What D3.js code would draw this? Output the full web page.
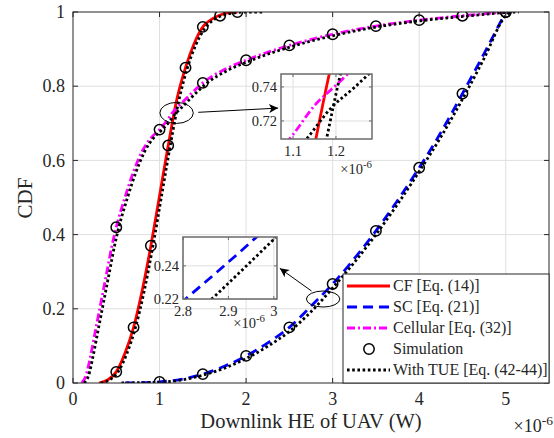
<!DOCTYPE html>
<html>
<head>
<meta charset="utf-8">
<script src="https://cdn.jsdelivr.net/npm/d3@7"></script>
<style>
  body { margin: 0; background: #fff; }
  svg { display: block; }
</style>
</head>
<body>
<svg id="chart" width="554" height="438"></svg>
<script>
// Downlink harvested energy (x in units of 1e-6 W) and CDF values
const cfX   = [0.30, 0.40, 0.50, 0.60, 0.70, 0.80, 0.90, 1.00, 1.10, 1.20, 1.30, 1.40, 1.50, 1.60, 1.70, 1.80, 1.90];
const cfY   = [0.000, 0.008, 0.030, 0.080, 0.150, 0.250, 0.370, 0.505, 0.640, 0.765, 0.850, 0.915, 0.960, 0.980, 0.992, 0.998, 1.000];

const scX   = [0.60, 0.80, 1.00, 1.25, 1.50, 1.75, 2.00, 2.25, 2.50, 2.75, 3.00, 3.25, 3.50, 3.75, 4.00, 4.25, 4.50, 4.75, 5.00];
const scY   = [0.000, 0.001, 0.003, 0.010, 0.024, 0.045, 0.073, 0.108, 0.150, 0.207, 0.267, 0.335, 0.410, 0.492, 0.580, 0.675, 0.780, 0.888, 1.000];

const cellX = [0.10, 0.15, 0.20, 0.25, 0.30, 0.35, 0.40, 0.45, 0.50, 0.60, 0.70, 0.80, 0.90, 1.00, 1.10, 1.15, 1.20, 1.30, 1.40, 1.50, 1.75, 2.00, 2.50, 3.00, 3.50, 4.00, 4.50, 5.00];
const cellY = [0.000, 0.020, 0.070, 0.130, 0.190, 0.250, 0.310, 0.370, 0.420, 0.500, 0.570, 0.625, 0.660, 0.683, 0.712, 0.729, 0.741, 0.765, 0.788, 0.809, 0.845, 0.870, 0.910, 0.940, 0.962, 0.978, 0.990, 1.000];

// Closed-form results with transceiver hardware impairments (TUE)
const tueCfX   = [0.32, 0.42, 0.52, 0.62, 0.72, 0.82, 0.92, 1.02, 1.12, 1.22, 1.32, 1.42, 1.52, 1.62, 1.72, 1.85, 2.00, 2.20];
const tueCfY   = [0.000, 0.008, 0.030, 0.078, 0.148, 0.245, 0.365, 0.500, 0.635, 0.758, 0.848, 0.912, 0.955, 0.978, 0.990, 0.997, 1.000, 1.000];

const tueScX   = [0.56, 0.80, 1.00, 1.25, 1.50, 1.75, 2.00, 2.25, 2.50, 2.75, 3.00, 3.25, 3.50, 3.75, 4.00, 4.25, 4.50, 4.75, 5.00, 5.05];
const tueScY   = [0.000, 0.001, 0.002, 0.008, 0.021, 0.040, 0.066, 0.099, 0.139, 0.192, 0.256, 0.325, 0.400, 0.482, 0.570, 0.663, 0.765, 0.875, 0.990, 1.000];

const tueCellX = [0.13, 0.18, 0.23, 0.28, 0.33, 0.38, 0.43, 0.48, 0.53, 0.63, 0.73, 0.83, 0.93, 1.03, 1.13, 1.19, 1.24, 1.34, 1.44, 1.54, 1.79, 2.04, 2.54, 3.04, 3.54, 4.04, 4.54, 5.04, 5.15];
const tueCellY = [0.000, 0.020, 0.070, 0.130, 0.190, 0.250, 0.310, 0.370, 0.420, 0.500, 0.570, 0.625, 0.660, 0.683, 0.709, 0.728, 0.739, 0.763, 0.786, 0.807, 0.843, 0.868, 0.908, 0.938, 0.961, 0.977, 0.989, 0.999, 1.000];

// Monte-Carlo simulation points
const simCfX   = [0.5, 0.7, 0.9, 1.1, 1.3, 1.5, 1.7, 1.9];
const simCfY   = [0.03, 0.15, 0.37, 0.64, 0.85, 0.96, 0.99, 1.0];
const simCellX = [0.5, 1.0, 1.5, 2.0, 2.5, 3.0, 3.5, 4.0, 4.5, 5.0];
const simCellY = [0.42, 0.683, 0.809, 0.87, 0.91, 0.94, 0.962, 0.978, 0.99, 1.0];
const simScX   = [1.0, 1.5, 2.0, 2.5, 3.0, 3.5, 4.0, 4.5, 5.0];
const simScY   = [0.003, 0.024, 0.073, 0.15, 0.267, 0.41, 0.58, 0.78, 1.0];

// Axis ticks
const xTicks = [0, 1, 2, 3, 4, 5];
const yTicks = [0, 0.2, 0.4, 0.6, 0.8, 1];
const inset1XTicks = [1.1, 1.2];
const inset1YTicks = [0.72, 0.74];
const inset2XTicks = [2.8, 2.9, 3];
const inset2YTicks = [0.22, 0.24];

const legendLabels = ["CF [Eq. (14)]", "SC [Eq. (21)]", "Cellular [Eq. (32)]", "Simulation", "With TUE [Eq. (42-44)]"];

// ---------------------------------------------------------------
const svg = d3.select("#chart");
const AX = "#262626", GRID = "#dfdfdf";
const FONT = '"Liberation Serif", "Times New Roman", serif';
const txt = sel => sel.style("font-family", FONT).style("fill", AX);

const x = d3.scaleLinear().domain([0, 5.5]).range([73, 549]);
const y = d3.scaleLinear().domain([0, 1]).range([383, 12]);

const zip = (xs, ys) => xs.map((v, i) => [v, ys[i]]);

const styles = [
  { data: zip(cfX, cfY),     color: "#ff0000", dash: null },
  { data: zip(scX, scY),     color: "#0000ff", dash: "10,6" },
  { data: zip(cellX, cellY), color: "#ff00ff", dash: "8,3,2,3" }
];
const tueData = [zip(tueCfX, tueCfY), zip(tueScX, tueScY), zip(tueCellX, tueCellY)];
const simData = [].concat(zip(simCfX, simCfY), zip(simCellX, simCellY), zip(simScX, simScY));

function drawGrid(g, sx, sy, xt, yt) {
  const [x0, x1] = sx.range(), [y0, y1] = sy.range();
  g.selectAll(null).data(xt).join("line")
    .attr("x1", d => sx(d)).attr("x2", d => sx(d)).attr("y1", y0).attr("y2", y1)
    .attr("stroke", GRID).attr("stroke-width", 1);
  g.selectAll(null).data(yt).join("line")
    .attr("x1", x0).attr("x2", x1).attr("y1", d => sy(d)).attr("y2", d => sy(d))
    .attr("stroke", GRID).attr("stroke-width", 1);
}

function drawCurves(g, sx, sy, withMarkers) {
  const line = d3.line().x(d => sx(d[0])).y(d => sy(d[1])).curve(d3.curveMonotoneX);
  styles.forEach(s => {
    g.append("path").attr("d", line(s.data)).attr("fill", "none")
      .attr("stroke", s.color).attr("stroke-width", 2.8)
      .attr("stroke-dasharray", s.dash);
  });
  if (withMarkers) {
    g.selectAll(null).data(simData).join("circle")
      .attr("cx", d => sx(d[0])).attr("cy", d => sy(d[1])).attr("r", 5.2)
      .attr("fill", "none").attr("stroke", "#000").attr("stroke-width", 1.5);
  }
  tueData.forEach(d => {
    g.append("path").attr("d", line(d)).attr("fill", "none")
      .attr("stroke", "#000").attr("stroke-width", 2.8)
      .attr("stroke-dasharray", "2.6,2.6");
  });
}

function drawFrame(g, sx, sy, xt, yt, opts) {
  const [x0, x1] = sx.range(), [y0, y1] = sy.range();
  const tl = opts.tick;
  // ticks on all four sides, pointing inward
  xt.forEach(t => {
    g.append("line").attr("x1", sx(t)).attr("x2", sx(t)).attr("y1", y0).attr("y2", y0 - tl).attr("stroke", opts.color);
    g.append("line").attr("x1", sx(t)).attr("x2", sx(t)).attr("y1", y1).attr("y2", y1 + tl).attr("stroke", opts.color);
  });
  yt.forEach(t => {
    g.append("line").attr("x1", x0).attr("x2", x0 + tl).attr("y1", sy(t)).attr("y2", sy(t)).attr("stroke", opts.color);
    g.append("line").attr("x1", x1).attr("x2", x1 - tl).attr("y1", sy(t)).attr("y2", sy(t)).attr("stroke", opts.color);
  });
  g.append("rect").attr("x", x0).attr("y", y1).attr("width", x1 - x0).attr("height", y0 - y1)
    .attr("fill", "none").attr("stroke", opts.color).attr("stroke-width", opts.width);
  // tick labels
  g.selectAll(null).data(xt).join("text")
    .attr("x", d => sx(d)).attr("y", y0 + opts.xLabelDy)
    .attr("text-anchor", "middle").attr("font-size", opts.font)
    .call(txt).text(d => opts.fmtX(d));
  g.selectAll(null).data(yt).join("text")
    .attr("x", x0 - opts.yLabelDx).attr("y", d => sy(d)).attr("dy", "0.34em")
    .attr("text-anchor", "end").attr("font-size", opts.font)
    .call(txt).text(d => opts.fmtY(d));
  // exponent label at the right end of the x axis
  const ex = g.append("text").attr("x", x1 + opts.expDx).attr("y", y0 + opts.expDy)
    .attr("text-anchor", "end").attr("font-size", opts.font).call(txt);
  ex.append("tspan").text("\u00d710");
  ex.append("tspan").attr("dy", -opts.font * 0.4).attr("font-size", opts.font * 0.75).text("-6");
}

// ---- main axes ----
const main = svg.append("g");
drawGrid(main, x, y, xTicks.slice(1), yTicks.slice(1, -1));
svg.append("clipPath").attr("id", "clipMain").append("rect")
  .attr("x", 73).attr("y", 12).attr("width", 476).attr("height", 371);
const mainPlot = main.append("g").attr("clip-path", "url(#clipMain)");
drawCurves(mainPlot, x, y, true);
drawFrame(main, x, y, xTicks, yTicks, {
  tick: 5, color: AX, width: 1, font: 18, xLabelDy: 22, yLabelDx: 8,
  fmtX: d => d3.format("")(d), fmtY: d => d3.format("")(d),
  expDx: 4, expDy: 49
});

// axis titles
svg.append("text").attr("x", (73 + 549) / 2).attr("y", 428).attr("text-anchor", "middle")
  .attr("font-size", 20.5).call(txt).text("Downlink HE of UAV (W)");
svg.append("text").attr("transform", "translate(32,198) rotate(-90)").attr("text-anchor", "middle")
  .attr("font-size", 21).call(txt).text("CDF");

// ---- zoom annotations: ellipses and arrows ----
const defs = svg.append("defs");
defs.append("marker").attr("id", "arrowHead").attr("viewBox", "0 0 10 10")
  .attr("refX", 10).attr("refY", 5).attr("markerWidth", 12).attr("markerHeight", 9)
  .attr("markerUnits", "userSpaceOnUse").attr("orient", "auto")
  .append("path").attr("d", "M0,0 L10,5 L0,10 L2.5,5 Z").attr("fill", "#000");

const annotations = [
  { cx: 1.197, cy: 0.728, rx: 0.193, ry: 0.0283, from: [1.447, 0.7296], to: [2.37, 0.741] },
  { cx: 2.89,  cy: 0.2264, rx: 0.193, ry: 0.0216, from: [2.756, 0.248], to: [2.39, 0.309] }
];
annotations.forEach(a => {
  main.append("ellipse").attr("cx", x(a.cx)).attr("cy", y(a.cy))
    .attr("rx", x(a.rx) - x(0)).attr("ry", y(0) - y(a.ry))
    .attr("fill", "none").attr("stroke", "#000").attr("stroke-width", 1);
  main.append("line").attr("x1", x(a.from[0])).attr("y1", y(a.from[1]))
    .attr("x2", x(a.to[0])).attr("y2", y(a.to[1]))
    .attr("stroke", "#000").attr("stroke-width", 1).attr("marker-end", "url(#arrowHead)");
});

// ---- legend ----
const lg = svg.append("g");
lg.append("rect").attr("x", 343).attr("y", 274).attr("width", 206).attr("height", 109)
  .attr("fill", "#fff").attr("stroke", AX).attr("stroke-width", 1);
const rowY = i => 286 + i * 21;
legendLabels.forEach((lab, i) => {
  const yy = rowY(i);
  if (i < 3) {
    lg.append("line").attr("x1", 347).attr("x2", 390).attr("y1", yy).attr("y2", yy)
      .attr("stroke", styles[i].color).attr("stroke-width", 2.8).attr("stroke-dasharray", styles[i].dash);
  } else if (i === 3) {
    lg.append("circle").attr("cx", 369).attr("cy", yy).attr("r", 5.2)
      .attr("fill", "none").attr("stroke", "#000").attr("stroke-width", 1.5);
  } else {
    lg.append("line").attr("x1", 347).attr("x2", 390).attr("y1", yy).attr("y2", yy)
      .attr("stroke", "#000").attr("stroke-width", 2.8).attr("stroke-dasharray", "2.6,2.6");
  }
  lg.append("text").attr("x", 393).attr("y", yy).attr("dy", "0.33em")
    .attr("font-size", 16).call(txt).text(lab);
});

// ---- inset axes ----
function inset(id, xd, xr, yd, yr, xt, yt, fmtX, fmtY, expDx, expDy) {
  const sx = d3.scaleLinear().domain(xd).range(xr);
  const sy = d3.scaleLinear().domain(yd).range(yr);
  const g = svg.append("g");
  g.append("rect").attr("x", xr[0]).attr("y", yr[1]).attr("width", xr[1] - xr[0]).attr("height", yr[0] - yr[1])
    .attr("fill", "#fff");
  drawGrid(g, sx, sy, xt, yt);
  svg.append("clipPath").attr("id", id).append("rect")
    .attr("x", xr[0]).attr("y", yr[1]).attr("width", xr[1] - xr[0]).attr("height", yr[0] - yr[1]);
  drawCurves(g.append("g").attr("clip-path", `url(#${id})`), sx, sy, false);
  drawFrame(g, sx, sy, xt, yt, {
    tick: 3, color: "#6b6b6b", width: 1.5, font: 14.5, xLabelDy: 17, yLabelDx: 4,
    fmtX, fmtY, expDx, expDy
  });
}
inset("clipInset1", [1.072, 1.284], [281, 372], [0.7094, 0.7476], [139, 74],
  inset1XTicks, inset1YTicks, d3.format(".1f"), d3.format(".2f"), 0, 35);
inset("clipInset2", [2.8, 3.007], [183, 277], [0.22, 0.2574], [299, 237],
  inset2XTicks, inset2YTicks, d => (d === 3 ? "3" : d3.format(".1f")(d)), d3.format(".2f"), -12, 29);
</script>
</body>
</html>
